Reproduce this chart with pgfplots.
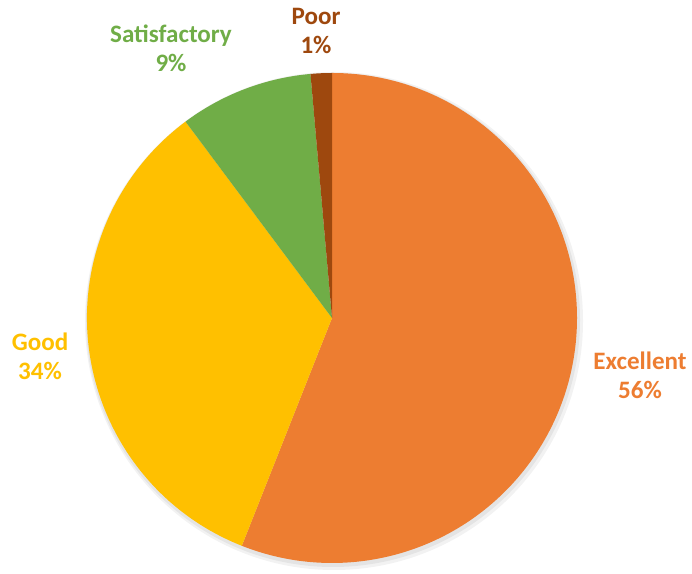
\documentclass[border=0pt]{standalone}
\usepackage{pgfplots}
\pgfplotsset{compat=1.18}
\usepackage{pgfplotstable}
\usepackage{fontspec}
\setmainfont{Carlito}
\definecolor{cExc}{HTML}{ED7D31}
\definecolor{cGood}{HTML}{FFC000}
\definecolor{cSat}{HTML}{70AD47}
\definecolor{cPoor}{HTML}{9E480E}

\pgfplotstableread{
label value
Excellent 56.0
Good 33.8
Satisfactory 8.8
Poor 1.4
}\piedata

\begin{document}
\begin{tikzpicture}
\pgfplotstablegetelem{0}{value}\of\piedata \let\vA\pgfplotsretval
\pgfplotstablegetelem{1}{value}\of\piedata \let\vB\pgfplotsretval
\pgfplotstablegetelem{2}{value}\of\piedata \let\vC\pgfplotsretval
\pgfplotstablegetelem{3}{value}\of\piedata \let\vD\pgfplotsretval
\pgfmathsetmacro\aS{90}
\pgfmathsetmacro\aA{\aS-3.6*\vA}
\pgfmathsetmacro\aB{\aA-3.6*\vB}
\pgfmathsetmacro\aC{\aB-3.6*\vC}
\pgfmathsetmacro\aD{\aC-3.6*\vD}
\begin{axis}[
  scale only axis, width=519pt, height=423pt,
  xmin=0, xmax=692, ymin=0, ymax=564,
  hide axis, clip=false,
]
\path (axis cs:0,0) rectangle (axis cs:692,564);
\fill[black, opacity=0.05] (axis cs:334,243) circle[radius=249];
\fill[black, opacity=0.06] (axis cs:333,244) circle[radius=247];
\fill[cExc] (axis cs:332,246) -- (axis cs:{332+245*cos(\aS)},{246+245*sin(\aS)}) arc[start angle=\aS, end angle=\aA, radius=245] -- cycle;
\fill[cGood] (axis cs:332,246) -- (axis cs:{332+245*cos(\aA)},{246+245*sin(\aA)}) arc[start angle=\aA, end angle=\aB, radius=245] -- cycle;
\fill[cSat] (axis cs:332,246) -- (axis cs:{332+245*cos(\aB)},{246+245*sin(\aB)}) arc[start angle=\aB, end angle=\aC, radius=245] -- cycle;
\fill[cPoor] (axis cs:332,246) -- (axis cs:{332+245*cos(\aC)},{246+245*sin(\aC)}) arc[start angle=\aC, end angle=\aD, radius=245] -- cycle;
\tikzset{lbl/.style={font=\fontsize{18.8}{22}\selectfont\bfseries, align=center, inner sep=0pt}}
\node[lbl, text=cPoor] at (axis cs:316,533) {Poor\\1\%};
\node[lbl, text=cSat] at (axis cs:171,516) {Satisfactory\\9\%};
\node[lbl, text=cGood] at (axis cs:40,208) {Good\\34\%};
\node[lbl, text=cExc] at (axis cs:640,189) {Excellent\\56\%};
\end{axis}
\end{tikzpicture}
\end{document}
